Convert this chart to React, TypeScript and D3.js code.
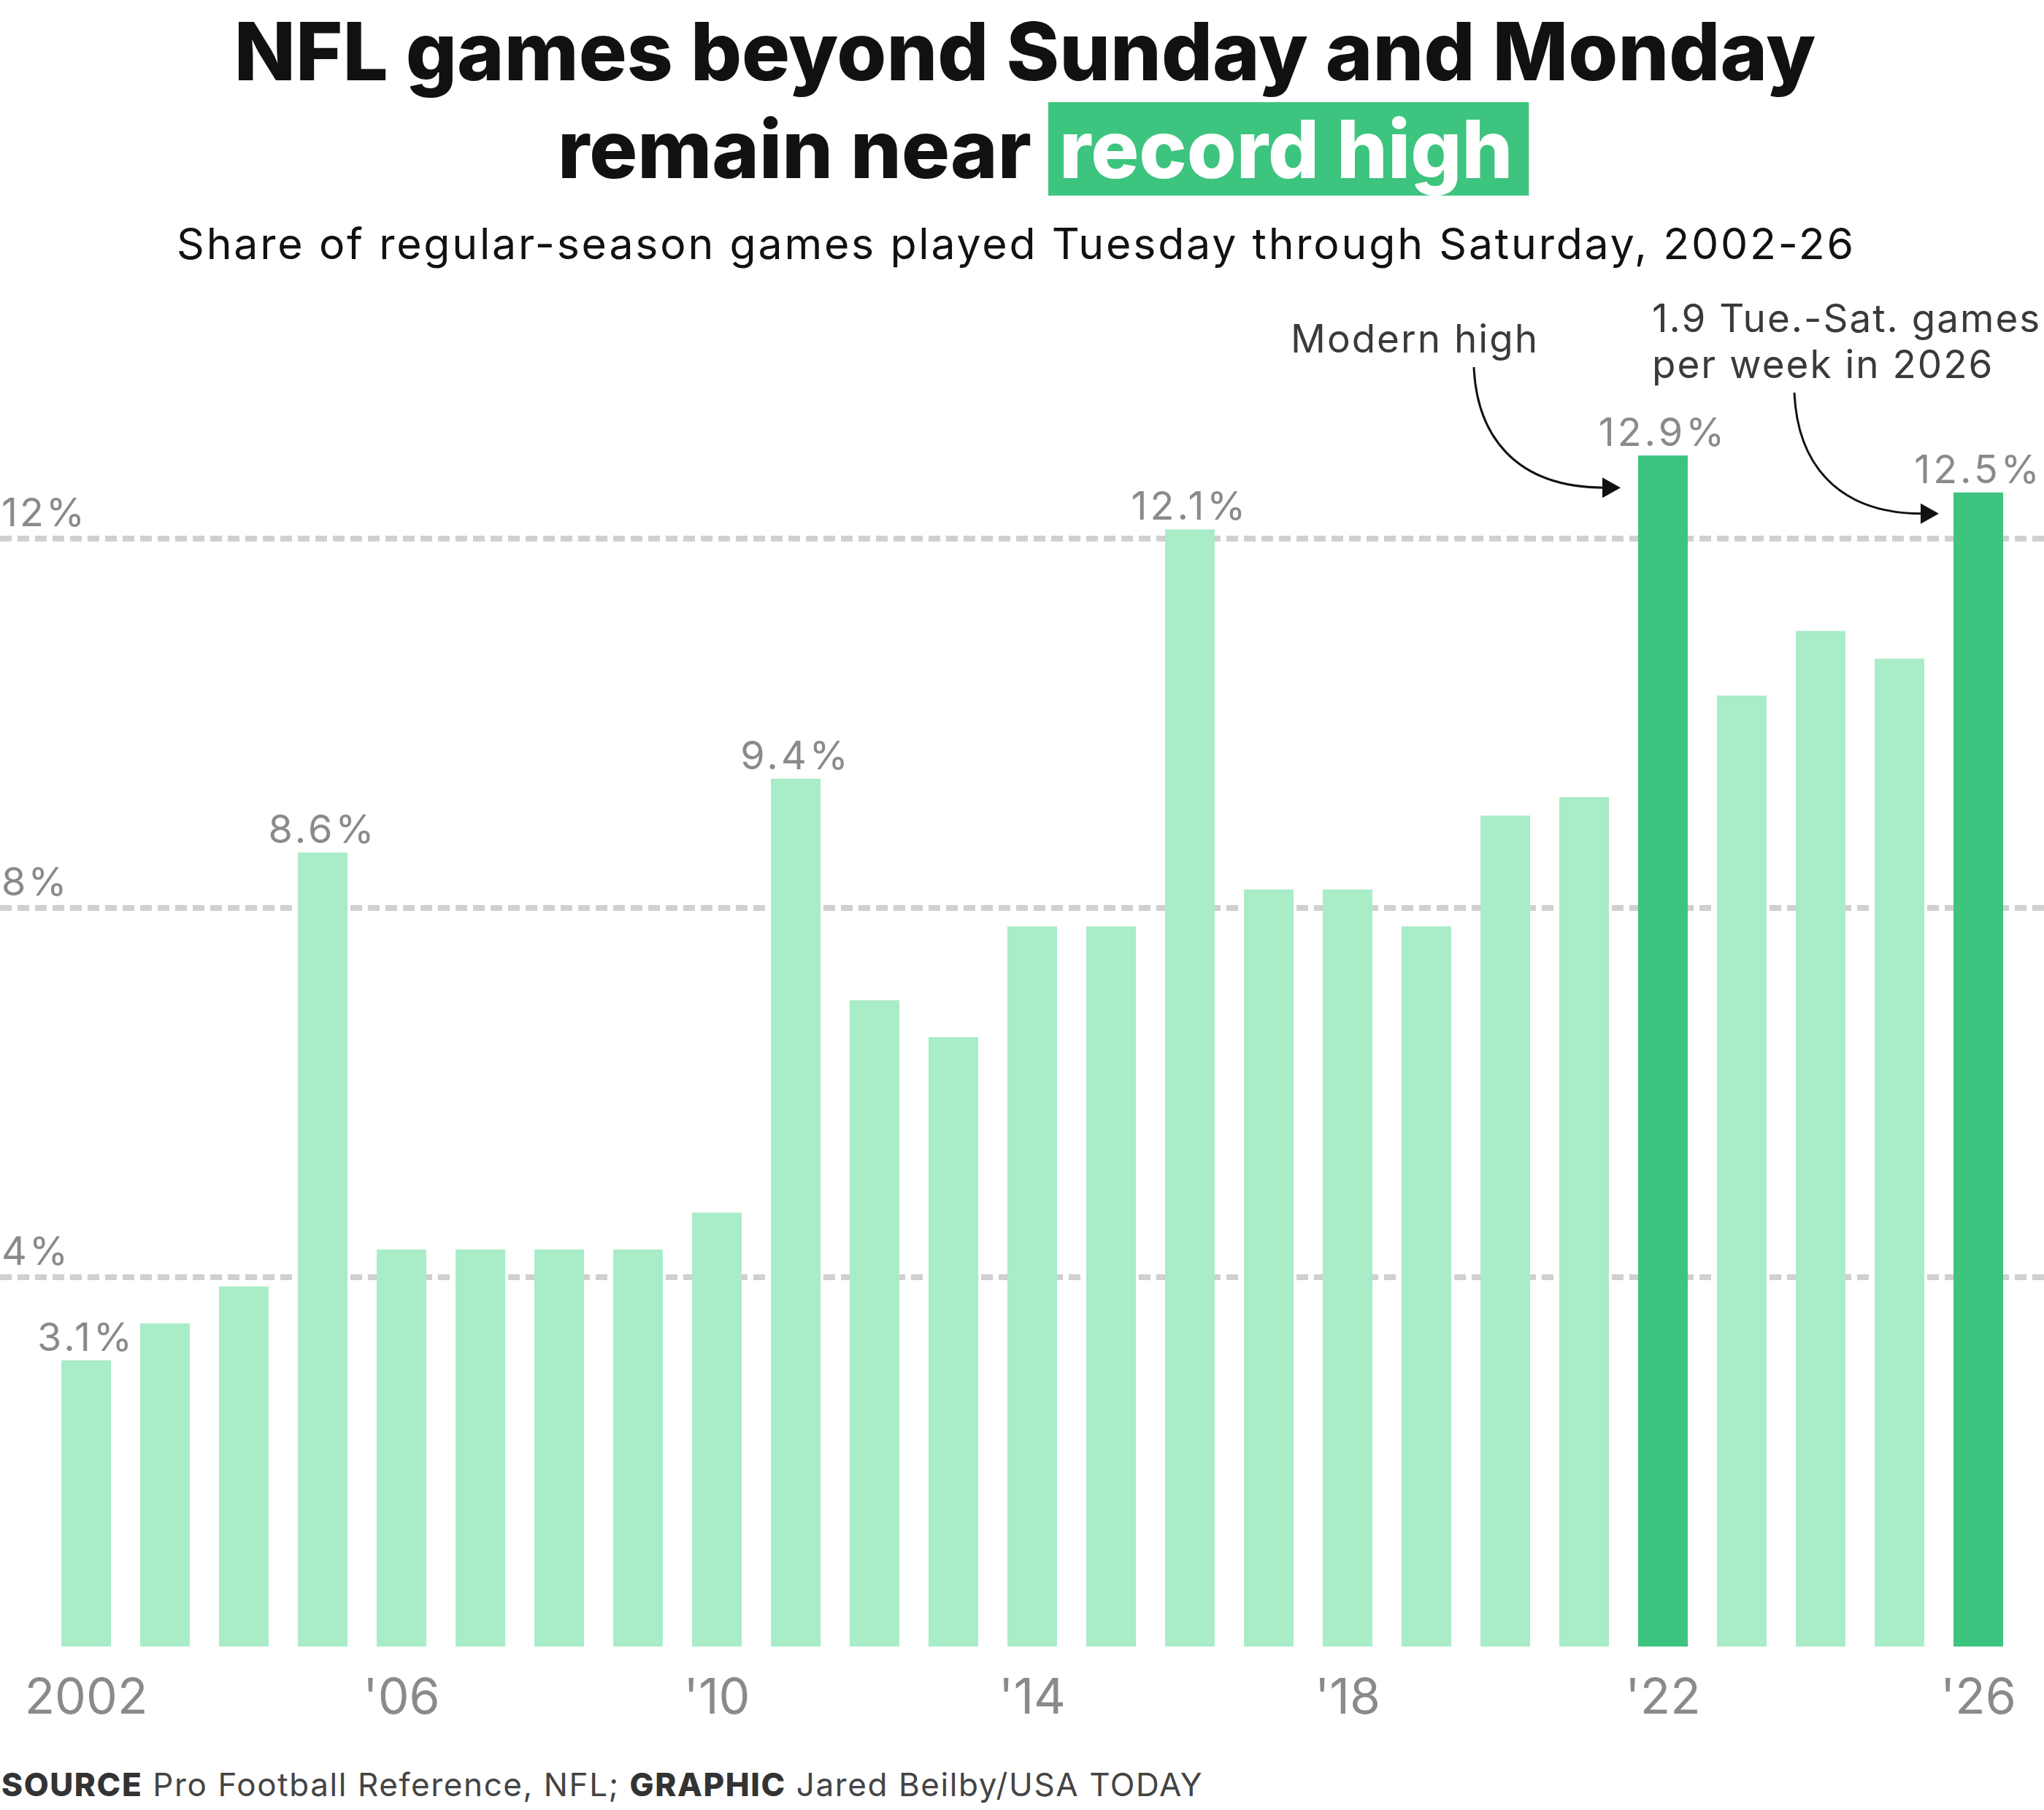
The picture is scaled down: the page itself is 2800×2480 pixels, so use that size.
import React, { useLayoutEffect, useRef, useState } from 'react';
import * as d3 from 'd3';

// ---- Data ----
const years = [2002, 2003, 2004, 2005, 2006, 2007, 2008, 2009, 2010, 2011, 2012, 2013, 2014, 2015, 2016, 2017, 2018, 2019, 2020, 2021, 2022, 2023, 2024, 2025, 2026];
const shares = [3.1, 3.5, 3.9, 8.6, 4.3, 4.3, 4.3, 4.3, 4.7, 9.4, 7.0, 6.6, 7.8, 7.8, 12.1, 8.2, 8.2, 7.8, 9.0, 9.2, 12.9, 10.3, 11.0, 10.7, 12.5];
const highlightYears = [2022, 2026];
const labeledYears = [2002, 2005, 2011, 2016, 2022, 2026];
const tickYears = [2002, 2006, 2010, 2014, 2018, 2022, 2026];
const tickLabels = ['2002', "'06", "'10", "'14", "'18", "'22", "'26"];
const gridValues = [4, 8, 12];
const gridLabels = ['4%', '8%', '12%'];

const titleLine1 = 'NFL games beyond Sunday and Monday';
const titleLine2a = 'remain near';
const titleLine2b = 'record high';
const subtitle = 'Share of regular-season games played Tuesday through Saturday, 2002-26';

const annotations = [
  { year: 2022, lines: ['Modern high'], textX: 1768, textY: 483, sx: 2019, sy: 503, tipDx: -24, tipDy: 44 },
  { year: 2026, lines: ['1.9 Tue.-Sat. games', 'per week in 2026'], textX: 2263, textY: 455, sx: 2458, sy: 538, tipDx: -20, tipDy: 29 },
];

// ---- Style ----
const W = 2800;
const H = 2480;
const FONT = 'Inter, "Open Sans", sans-serif';
const LIGHT = '#a9ecc8';
const DARK = '#3dc47e';
const GREY = '#8a8a8a';

export default function App() {
  const data = years.map((yr, i) => ({ year: yr, value: shares[i] }));

  const x = d3
    .scaleBand<number>()
    .domain(years)
    .range([64, 2764])
    .paddingInner(40 / 108)
    .paddingOuter(20 / 108);

  const y = d3.scaleLinear().domain([0, 14]).range([2256, 2256 - 14 * 126.5]);

  const recRef = useRef<SVGTextElement>(null);
  const [recW, setRecW] = useState(640);
  useLayoutEffect(() => {
    if (recRef.current) setRecW(recRef.current.getComputedTextLength());
  }, []);

  const line2X = 1413; // end of "remain near"
  const fmt = (v: number) => `${v.toFixed(1)}%`;

  return (
    <svg
      width={W}
      height={H}
      viewBox={`0 0 ${W} ${H}`}
      style={{ position: 'absolute', left: 0, top: 0, display: 'block', background: '#fff' }}
      fontFamily={FONT}
    >
      <rect width={W} height={H} fill="#fff" />

      {/* Title */}
      <text x={1404} y={110} textAnchor="middle" fontSize={110} fontWeight={800} fill="#111">
        {titleLine1}
      </text>
      <rect x={line2X + 23} y={140} width={recW + 15 + 22} height={128} fill={DARK} />
      <text x={line2X} y={244} textAnchor="end" fontSize={110} fontWeight={800} fill="#111">
        {titleLine2a}
      </text>
      <text ref={recRef} x={line2X + 38} y={244} textAnchor="start" fontSize={110} fontWeight={800} fill="#fff">
        {titleLine2b}
      </text>

      {/* Subtitle */}
      <text x={1392} y={355} textAnchor="middle" fontSize={59} fontWeight={400} fill="#111" letterSpacing={2.8}>
        {subtitle}
      </text>

      {/* Gridlines */}
      {gridValues.map((v, i) => (
        <g key={v}>
          <line
            x1={0}
            x2={W}
            y1={y(v)}
            y2={y(v)}
            stroke="#d0d0d0"
            strokeWidth={8}
            strokeDasharray="16 8"
          />
          <text x={2} y={y(v) - 17} fontSize={54} fill={GREY} letterSpacing={3}>
            {gridLabels[i]}
          </text>
        </g>
      ))}

      {/* Bars */}
      {data.map((d) => (
        <rect
          key={d.year}
          x={x(d.year)}
          y={y(d.value)}
          width={x.bandwidth()}
          height={y(0) - y(d.value)}
          fill={highlightYears.includes(d.year) ? DARK : LIGHT}
        />
      ))}

      {/* Value labels */}
      {data
        .filter((d) => labeledYears.includes(d.year))
        .map((d) => (
          <text
            key={d.year}
            x={(x(d.year) as number) + x.bandwidth() / 2}
            y={y(d.value) - 13}
            textAnchor="middle"
            fontSize={54}
            fill={GREY}
            letterSpacing={4}
          >
            {fmt(d.value)}
          </text>
        ))}

      {/* X axis labels */}
      {tickYears.map((yr, i) => (
        <text
          key={yr}
          x={(x(yr) as number) + x.bandwidth() / 2}
          y={2348}
          textAnchor="middle"
          fontSize={68}
          fill={GREY}
        >
          {tickLabels[i]}
        </text>
      ))}

      {/* Annotations */}
      {annotations.map((a) => {
        const v = shares[years.indexOf(a.year)];
        const tx = (x(a.year) as number) + a.tipDx;
        const ty = y(v) + a.tipDy;
        const endX = tx - 22;
        const path = d3.path();
        path.moveTo(a.sx, a.sy);
        path.bezierCurveTo(a.sx + 4, a.sy + (ty - a.sy) * 0.55, a.sx + (endX - a.sx) * 0.3, ty, endX, ty);
        return (
          <g key={a.year}>
            <text x={a.textX} y={a.textY} fontSize={53} fill="#3a3a3a" letterSpacing={2}>
              {a.lines.map((l, i) => (
                <tspan key={i} x={a.textX} dy={i === 0 ? 0 : 63}>
                  {l}
                </tspan>
              ))}
            </text>
            <path d={path.toString()} fill="none" stroke="#111" strokeWidth={3} />
            <polygon points={`${tx},${ty} ${tx - 25},${ty - 14} ${tx - 25},${ty + 14}`} fill="#111" />
          </g>
        );
      })}

      {/* Footer */}
      <text x={2} y={2461} fontSize={44} fill="#444" letterSpacing={1.6}>
        <tspan fontWeight={800} fill="#333">SOURCE</tspan>
        <tspan> Pro Football Reference, NFL; </tspan>
        <tspan fontWeight={800} fill="#333">GRAPHIC</tspan>
        <tspan> Jared Beilby/USA TODAY</tspan>
      </text>
    </svg>
  );
}
